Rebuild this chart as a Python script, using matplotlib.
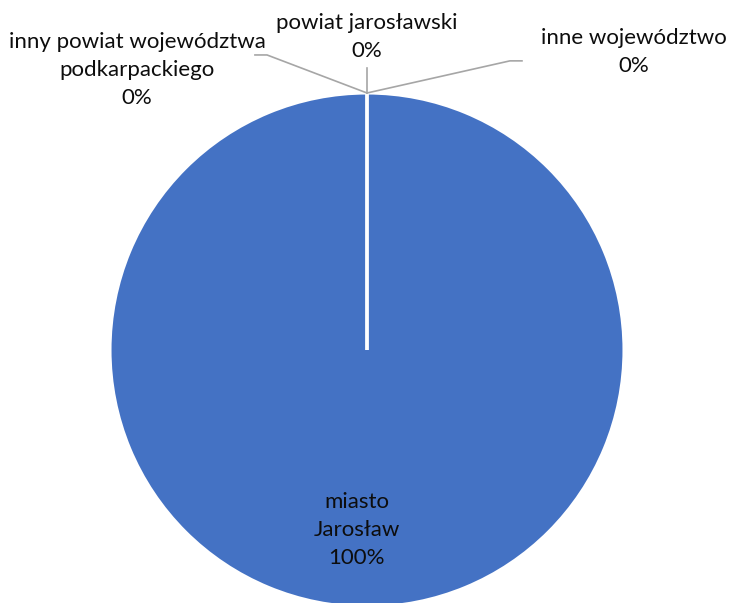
import matplotlib.pyplot as plt

# udział (%) miejsca zamieszkania
categories = ["miasto\nJarosław", "powiat jarosławski",
              "inny powiat województwa\npodkarpackiego", "inne województwo"]
values = [100, 0, 0, 0]

blue = "#4472C4"
grey = "#A6A6A6"

plt.rcParams['font.family'] = ['Lato', 'DejaVu Sans']

fig = plt.figure(figsize=(7.30, 6.03), dpi=100)
# pie radius 257px, centre at (367, 350) from the top-left corner
ax = fig.add_axes([110 / 730, -4 / 603, 514 / 730, 514 / 603])

wedges, _ = ax.pie(values, colors=[blue, blue, blue, blue], startangle=90,
                   counterclock=False,
                   wedgeprops=dict(edgecolor="white", linewidth=2.2))
ax.set_xlim(-1, 1)
ax.set_ylim(-1, 1)
ax.set_aspect("equal")
ax.axis("off")

fs = 16
ls = 1.5
labels = [f"{c}\n{v}%" for c, v in zip(categories, values)]

# label inside the big slice
ax.text(-0.04, -0.70, labels[0], ha="center", va="center", fontsize=fs,
        color="#0D0D0D", linespacing=ls)

# outside labels for the empty slices, with leader lines from the top of the pie
anchor = (0, 1.0)
outside = [
    # text position, leader line points
    ((0.0, 1.218), [(0.0, 1.097)]),
    ((-0.895, 1.089), [(-0.389, 1.148), (-0.436, 1.148)]),
    ((1.039, 1.158), [(0.556, 1.125), (0.603, 1.125)]),
]
for lab, (pos, pts) in zip(labels[1:], outside):
    xs = [anchor[0]] + [p[0] for p in pts]
    ys = [anchor[1]] + [p[1] for p in pts]
    ax.plot(xs, ys, color=grey, linewidth=1.2, clip_on=False)
    ax.text(pos[0], pos[1], lab, ha="center", va="center", fontsize=fs,
            color="#0D0D0D", linespacing=ls, clip_on=False)

fig.savefig("out.png", dpi=100)
